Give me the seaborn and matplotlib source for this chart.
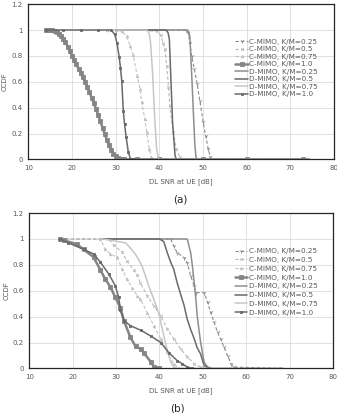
import matplotlib
matplotlib.use("Agg")
import matplotlib.pyplot as plt
import seaborn as sns

# series names (legend order)
labels = ["C-MIMO, K/M=0.25", "C-MIMO, K/M=0.5", "C-MIMO, K/M=0.75", "C-MIMO, K/M=1.0",
          "D-MIMO, K/M=0.25", "D-MIMO, K/M=0.5", "D-MIMO, K/M=0.75", "D-MIMO, K/M=1.0"]

# ---- panel (a): SNR [dB] vs CCDF ----
a_c025_x = [30, 46.2, 46.6, 47.0, 47.4, 48.0, 48.7, 49.3, 50.05, 50.6, 51.2, 51.7, 52.2, 74]
a_c025_y = [1, 1, 0.98, 0.9, 0.8, 0.7, 0.58, 0.45, 0.287, 0.184, 0.082, 0.018, 0, 0]
a_c05_x = [30, 38, 39.5, 40.3, 40.9, 41.3, 41.7, 42.1, 42.4, 43.2, 43.9, 44.7, 45.3, 74]
a_c05_y = [1, 1, 0.99, 0.96, 0.9, 0.85, 0.72, 0.56, 0.415, 0.21, 0.08, 0.017, 0, 0]
a_c075_x = [28, 30, 31.5, 32.5, 33.3, 34, 34.95, 35.6, 35.95, 36.7, 37.1, 37.7, 38.2, 38.7, 74]
a_c075_y = [1, 1, 0.99, 0.95, 0.88, 0.81, 0.646, 0.543, 0.44, 0.312, 0.21, 0.082, 0.018, 0, 0]
a_c10_x = [14, 14.5, 15, 15.5, 16, 16.5, 17, 17.5, 18, 18.5, 19, 19.5, 20, 20.5, 21, 21.5,
           22, 22.5, 23, 23.5, 24, 24.5, 25, 25.5, 26, 26.5, 27, 27.5, 28, 28.5, 29, 29.5,
           30, 30.5, 31, 31.5, 32, 35, 40, 50, 60, 73]
a_c10_y = [1, 1, 1, 0.998, 0.993, 0.985, 0.973, 0.955, 0.932, 0.905, 0.872, 0.838, 0.8, 0.768,
           0.735, 0.702, 0.668, 0.634, 0.6, 0.56, 0.52, 0.478, 0.435, 0.39, 0.345, 0.295, 0.245,
           0.195, 0.15, 0.108, 0.072, 0.045, 0.025, 0.012, 0.005, 0.002, 0, 0, 0, 0, 0, 0]
a_d025_x = [30, 46.2, 46.7, 47.0, 47.4, 47.8, 48.15, 48.4, 48.7, 74]
a_d025_y = [1, 1, 0.99, 0.95, 0.67, 0.364, 0.107, 0.02, 0, 0]
a_d05_x = [30, 41.5, 42.0, 42.3, 42.6, 43.04, 43.6, 43.9, 74]
a_d05_y = [1, 1, 0.98, 0.93, 0.67, 0.287, 0.03, 0, 0]
a_d075_x = [30, 37.2, 37.7, 38.0, 38.46, 39.0, 39.4, 39.8, 40.3, 74]
a_d075_y = [1, 1, 0.97, 0.9, 0.67, 0.285, 0.08, 0.005, 0, 0]
a_d10_x = [14, 18, 22, 26, 29, 29.8, 30.3, 30.8, 31.1, 31.4, 31.75, 32.05, 32.4, 32.9, 33.4, 34]
a_d10_y = [1, 1, 1, 1, 1, 0.966, 0.9, 0.795, 0.71, 0.607, 0.377, 0.27, 0.175, 0.056, 0.005, 0]

# ---- panel (b) ----
b_c025_x = [17, 42.6, 43.3, 44.1, 45.7, 46.4, 47.2, 48, 48.4, 50.3, 51.1, 51.8, 52.6, 53.4,
            54.1, 54.9, 55.7, 56.5, 57.2, 68]
b_c025_y = [1, 1, 0.945, 0.894, 0.856, 0.817, 0.714, 0.638, 0.586, 0.586, 0.51, 0.432, 0.356,
            0.279, 0.227, 0.163, 0.099, 0.035, 0.01, 0]
b_c05_x = [17, 28.3, 29.5, 31.4, 32.5, 34.1, 34.9, 35.6, 37.2, 38.7, 40.3, 41.8, 43.3, 44.9,
           46.4, 48, 49.5, 51, 68]
b_c05_y = [1, 1, 0.95, 0.9, 0.83, 0.76, 0.72, 0.66, 0.56, 0.484, 0.407, 0.304, 0.227, 0.15,
           0.09, 0.035, 0.01, 0, 0]
b_c075_x = [17, 26.4, 27.5, 28.7, 30.2, 31.4, 32.5, 33.7, 34.9, 35.6, 37.2, 38.7, 40.3, 41.8,
            43.3, 44.5]
b_c075_y = [1, 1, 0.92, 0.885, 0.86, 0.77, 0.69, 0.625, 0.56, 0.535, 0.43, 0.33, 0.227, 0.125,
            0.035, 0]
b_c10_x = [17, 18, 20.9, 22.5, 24.8, 26.4, 27.5, 28.7, 29.8, 31, 31.8, 33.3, 34.5, 35.7, 36.4,
           38, 38.8, 40]
b_c10_y = [1, 0.99, 0.96, 0.92, 0.86, 0.76, 0.69, 0.63, 0.55, 0.47, 0.37, 0.24, 0.17, 0.15,
           0.12, 0.05, 0.01, 0]
b_d025_x = [27, 46.4, 47.2, 47.6, 48, 48.4, 48.7, 49.1, 49.5, 49.9, 50.3, 51.1, 52, 68]
b_d025_y = [1, 1, 0.894, 0.79, 0.664, 0.535, 0.407, 0.30, 0.2, 0.125, 0.048, 0.01, 0, 0]
b_d05_x = [27, 40, 41, 41.8, 42.6, 43.3, 44.1, 44.9, 45.7, 46.4, 47.2, 48, 48.7, 49.5, 50.3,
           51, 52]
b_d05_y = [1, 1, 0.98, 0.894, 0.82, 0.766, 0.66, 0.57, 0.484, 0.38, 0.3, 0.23, 0.16, 0.11,
           0.022, 0.01, 0]
b_d075_x = [27, 32.2, 33.3, 34.5, 35.2, 36, 36.8, 37.5, 38.7, 39.9, 41, 41.8, 42.6, 43.3, 44, 57]
b_d075_y = [1, 0.97, 0.93, 0.88, 0.84, 0.79, 0.71, 0.64, 0.535, 0.42, 0.25, 0.14, 0.05, 0.01,
            0, 0]
b_d10_x = [17, 19, 22.5, 24.8, 26.4, 28.3, 29.8, 30.6, 31, 31.8, 33.3, 35.7, 38, 40.3, 42.2,
           44.1, 45.3, 46.4, 47.5]
b_d10_y = [1, 0.97, 0.92, 0.885, 0.82, 0.73, 0.64, 0.55, 0.45, 0.37, 0.33, 0.295, 0.25, 0.2,
           0.12, 0.06, 0.035, 0.01, 0]

x_ticks = [10, 20, 30, 40, 50, 60, 70, 80]
y_ticks = [0, 0.2, 0.4, 0.6, 0.8, 1, 1.2]
y_ticklabels = ["0", "0.2", "0.4", "0.6", "0.8", "1", "1.2"]

# line style per series (same order as labels)
styles = [
    dict(color="#8c8c8c", linestyle=(0, (3, 2)), marker="1", markersize=3, lw=0.8),
    dict(color="#b8b8b8", linestyle=(0, (3, 2)), marker="x", markersize=1.8, lw=0.8),
    dict(color="#c2c2c2", linestyle=(0, (3, 2)), marker="^", markersize=1.8, lw=0.8),
    dict(color="#858585", linestyle="-", marker="s", markersize=2.4, lw=1.8),
    dict(color="#8e8e8e", linestyle="-", marker=None, markersize=0, lw=1.1),
    dict(color="#6a6a6a", linestyle="-", marker=None, markersize=0, lw=1.1),
    dict(color="#c6c6c6", linestyle="-", marker=None, markersize=0, lw=1.1),
    dict(color="#6a6a6a", linestyle="-", marker="s", markersize=2.0, lw=1.1),
]

sns.set_style("white")
plt.rcParams['font.family'] = ['DejaVu Sans']

fig = plt.figure(figsize=(3.37, 4.13), dpi=100)
ax_a = fig.add_axes([0.084, 0.614, 0.907, 0.376])
ax_b = fig.add_axes([0.087, 0.108, 0.901, 0.376])

panels = [
    (ax_a, [(a_c025_x, a_c025_y), (a_c05_x, a_c05_y), (a_c075_x, a_c075_y), (a_c10_x, a_c10_y),
            (a_d025_x, a_d025_y), (a_d05_x, a_d05_y), (a_d075_x, a_d075_y), (a_d10_x, a_d10_y)],
     0.589, 0.2),
    (ax_b, [(b_c025_x, b_c025_y), (b_c05_x, b_c05_y), (b_c075_x, b_c075_y), (b_c10_x, b_c10_y),
            (b_d025_x, b_d025_y), (b_d05_x, b_d05_y), (b_d075_x, b_d075_y), (b_d10_x, b_d10_y)],
     0.557, 0.38),
]

for ax, series, leg_y, spacing in panels:
    for (xs, ys), lab, st in zip(series, labels, styles):
        sns.lineplot(x=xs, y=ys, ax=ax, label=lab, sort=False, estimator=None,
                     color=st["color"], linestyle=st["linestyle"], marker=st["marker"],
                     markersize=st["markersize"], lw=st["lw"],
                     markeredgecolor=st["color"], markeredgewidth=0.6)
    ax.set_xlim(10, 80)
    ax.set_ylim(0, 1.2)
    ax.set_xticks(x_ticks)
    ax.set_yticks(y_ticks)
    ax.set_yticklabels(y_ticklabels)
    ax.grid(True, color="#dcdcdc", lw=0.6)
    ax.set_axisbelow(True)
    ax.tick_params(length=0, labelsize=5, colors="#595959", pad=4)
    for sp in ax.spines.values():
        sp.set_color("#262626")
        sp.set_linewidth(0.9)
    ax.set_xlabel("DL SNR at UE [dB]", fontsize=5, color="#595959", va="center")
    ax.xaxis.set_label_coords(0.5, -0.146)
    ax.set_ylabel("CCDF", fontsize=5, color="#595959", va="center")
    ax.yaxis.set_label_coords(-0.076, 0.5)
    ax.legend(loc="center left", bbox_to_anchor=(0.666, leg_y), frameon=False,
              fontsize=5.2, labelspacing=spacing, handlelength=1.7, handletextpad=0.15,
              borderpad=0, labelcolor="#595959")

fig.text(0.534, 0.516, "(a)", fontsize=7.5, ha="center", va="center", color="#262626")
fig.text(0.528, 0.0097, "(b)", fontsize=7.5, ha="center", va="center", color="#262626")

fig.savefig("out.png", dpi=100)
